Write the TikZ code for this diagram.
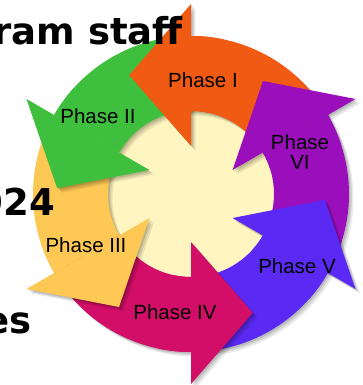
\documentclass[tikz,border=0pt]{standalone}
\usepackage{fontspec}
\setmainfont{Liberation Sans}
\newfontfamily\slidefont{DejaVu Sans}
\definecolor{phaseone}{RGB}{240,90,18}
\definecolor{phasetwo}{RGB}{62,192,62}
\definecolor{phasethree}{RGB}{253,200,84}
\definecolor{phasefour}{RGB}{210,14,104}
\definecolor{phasefive}{RGB}{90,42,244}
\definecolor{phasesix}{RGB}{155,14,188}
\definecolor{middle}{RGB}{255,245,192}
\tikzset{ringpart/.style={insert path={(#1-60:158pt) arc[start angle=#1-60,end angle=#1,radius=158pt]
                                        -- (#1:83pt) arc[start angle=#1,end angle=#1-60,radius=83pt] -- cycle}},
         basepart/.style={insert path={(#1-12:158pt) arc[start angle=#1-12,end angle=#1,radius=158pt]
                                        -- (#1:83pt) arc[start angle=#1,end angle=#1-12,radius=83pt] -- cycle}},
         headpart/.style={insert path={(#1:48pt) -- (#1+27.5:134pt) -- (#1:190pt) -- cycle}},
         dropshade/.style={preaction={fill=black,opacity=.12,even odd rule,transform canvas={shift={(1.5pt,-1.5pt)}}},
                           preaction={fill=black,opacity=.10,even odd rule,transform canvas={shift={(3pt,-3pt)}}},
                           preaction={fill=black,opacity=.08,even odd rule,transform canvas={shift={(4.5pt,-4.5pt)}}}},
         phasename/.style={font=\fontsize{20.5}{20}\selectfont, align=center, inner sep=0pt},
         slidetext/.style={font=\slidefont\bfseries\fontsize{37}{40}\selectfont, inner sep=0pt, anchor=base east}}

\begin{document}
\begin{tikzpicture}[x=1pt,y=1pt]
   \useasboundingbox (-191,-191) rectangle (171,194);
   \clip (-191,-191) rectangle (171,194);
   \begin{scope}
    \fill[middle] (0,0) circle[radius=88pt];
    \path[dropshade,even odd rule] (0,0) circle[radius=158pt] (0,0) circle[radius=83pt];
   \end{scope}
   \begin{scope}
    \fill[phaseone]   [ringpart=90];
    \fill[phasetwo]   [ringpart=150];
    \fill[phasethree] [ringpart=210];
    \fill[phasefour]  [ringpart=270];
    \fill[phasefive]  [ringpart=330];
    \fill[phasesix]   [ringpart=30];
   \end{scope}
   \begin{scope}
    \fill[phaseone,dropshade]   [headpart=90];
    \fill[phasetwo,dropshade]   [headpart=150];
    \fill[phasethree,dropshade] [headpart=210];
    \fill[phasefour,dropshade]  [headpart=270];
    \fill[phasefive,dropshade]  [headpart=330];
    \fill[phasesix,dropshade]   [headpart=30];
    \fill[phaseone]   [basepart=90];
    \fill[phasetwo]   [basepart=150];
    \fill[phasethree] [basepart=210];
    \fill[phasefour]  [basepart=270];
    \fill[phasefive]  [basepart=330];
    \fill[phasesix]   [basepart=30];
   \end{scope}
   \node[phasename] (p1) at (12,114)   {Phase I};
   \node[phasename] (p2) at (-93,78)   {Phase II};
   \node[phasename] (p3) at (-105,-51) {Phase III};
   \node[phasename] (p4) at (-16,-118) {Phase IV};
   \node[phasename] (p5) at (106,-72)  {Phase V};
   \node[phasename] (p6) at (109,42)   {Phase\\VI};
   \node[slidetext] (s1) at (-8,149)   {ram staff};
   \node[slidetext] (s2) at (-136,-22) {024};
   \node[slidetext] (s3) at (-159,-139) {es};
  \end{tikzpicture}
\end{document}
